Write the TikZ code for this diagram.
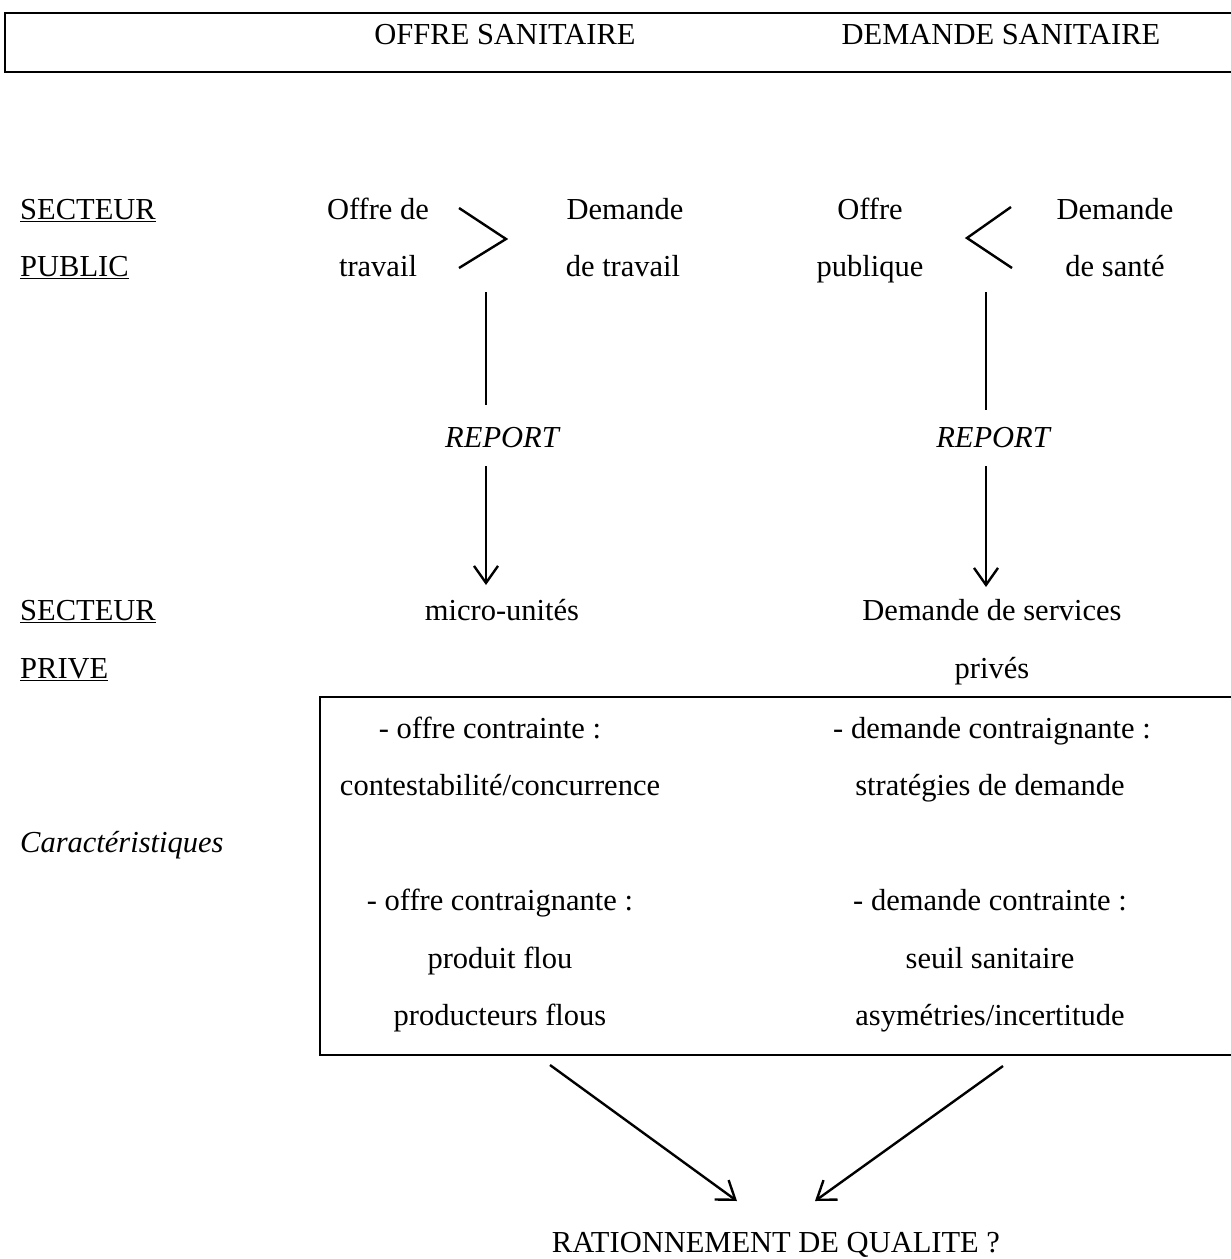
\documentclass[tikz,border=0pt]{standalone}
\usepackage{fontspec}
\setmainfont{Liberation Serif}
\usetikzlibrary{arrows.meta}
\begin{document}
\begin{tikzpicture}[x=1pt,y=-1pt,
  txt/.style={inner sep=0pt,font=\fontsize{30.5}{36}\selectfont,anchor=base},
  lft/.style={txt,anchor=base west},
  rule/.style={line width=2.2pt},
  conn/.style={line width=2.4pt},
  arr/.style={line width=2.4pt,-{Straight Barb[length=17pt,width=24pt,line width=2.4pt]}}]
\useasboundingbox (0,0) rectangle (1231,1259);
% header box
\draw[rule] (1231,13) -- (5,13) -- (5,72) -- (1231,72);
\node[txt] (offre) at (505,44) {OFFRE SANITAIRE};
\node[txt] (demande) at (1001,44) {DEMANDE SANITAIRE};
% public sector
\node[lft] (sp1) at (20,219) {\underline{SECTEUR}};
\node[lft] (sp2) at (20,276) {\underline{PUBLIC}};
\node[txt] (ot1) at (378,219) {Offre de};
\node[txt] (ot2) at (378,276) {travail};
\node[txt] (dt1) at (625,219) {Demande};
\node[txt] (dt2) at (623,276) {de travail};
\node[txt] (op1) at (870,219) {Offre};
\node[txt] (op2) at (870,276) {publique};
\node[txt] (ds1) at (1115,219) {Demande};
\node[txt] (ds2) at (1115,276) {de santé};
\draw[conn] (459,208) -- (506,239) -- (459,268);
\draw[conn] (1011,207) -- (967,238) -- (1012,268);
% report
\node[txt,font=\fontsize{30.5}{36}\selectfont\itshape] (rep1) at (502,447) {REPORT};
\node[txt,font=\fontsize{30.5}{36}\selectfont\itshape] (rep2) at (993,447) {REPORT};
\coordinate (v1a) at (486,292);
\coordinate (v1b) at (486,405);
\coordinate (v1c) at (486,466);
\coordinate (v1d) at (486,585);
\coordinate (v2a) at (986,292);
\coordinate (v2b) at (986,410);
\coordinate (v2c) at (986,466);
\coordinate (v2d) at (986,587);
\draw[conn] (v1a) -- (v1b);
\draw[arr] (v1c) -- (v1d);
\draw[conn] (v2a) -- (v2b);
\draw[arr] (v2c) -- (v2d);
% private sector
\node[lft] (pr1) at (20,620) {\underline{SECTEUR}};
\node[lft] (pr2) at (20,678) {\underline{PRIVE}};
\node[txt] (micro) at (502,620) {micro-unités};
\node[txt] (dsp1) at (992,620) {Demande de services};
\node[txt] (dsp2) at (992,678) {privés};
% box
\draw[rule] (1231,697) -- (320,697) -- (320,1055) -- (1231,1055);
\node[txt] (c1) at (490,738) {- offre contrainte :};
\node[txt] (c2) at (500,795) {contestabilité/concurrence};
\node[txt] (c3) at (992,738) {- demande contraignante :};
\node[txt] (c4) at (990,795) {stratégies de demande};
\node[lft,font=\fontsize{30.5}{36}\selectfont\itshape] (car) at (20,852) {Caractéristiques};
\node[txt] (c5) at (500,910) {- offre contraignante :};
\node[txt] (c6) at (500,968) {produit flou};
\node[txt] (c7) at (500,1025) {producteurs flous};
\node[txt] (c8) at (990,910) {- demande contrainte :};
\node[txt] (c9) at (990,968) {seuil sanitaire};
\node[txt] (c10) at (990,1025) {asymétries/incertitude};
% bottom
\coordinate (b1a) at (550,1065);
\coordinate (b1b) at (737,1201);
\coordinate (b2a) at (1003,1066);
\coordinate (b2b) at (815,1201);
\draw[arr] (b1a) -- (b1b);
\draw[arr] (b2a) -- (b2b);
\node[txt] (rat) at (776,1252) {RATIONNEMENT DE QUALITE ?};
\end{tikzpicture}
\end{document}
